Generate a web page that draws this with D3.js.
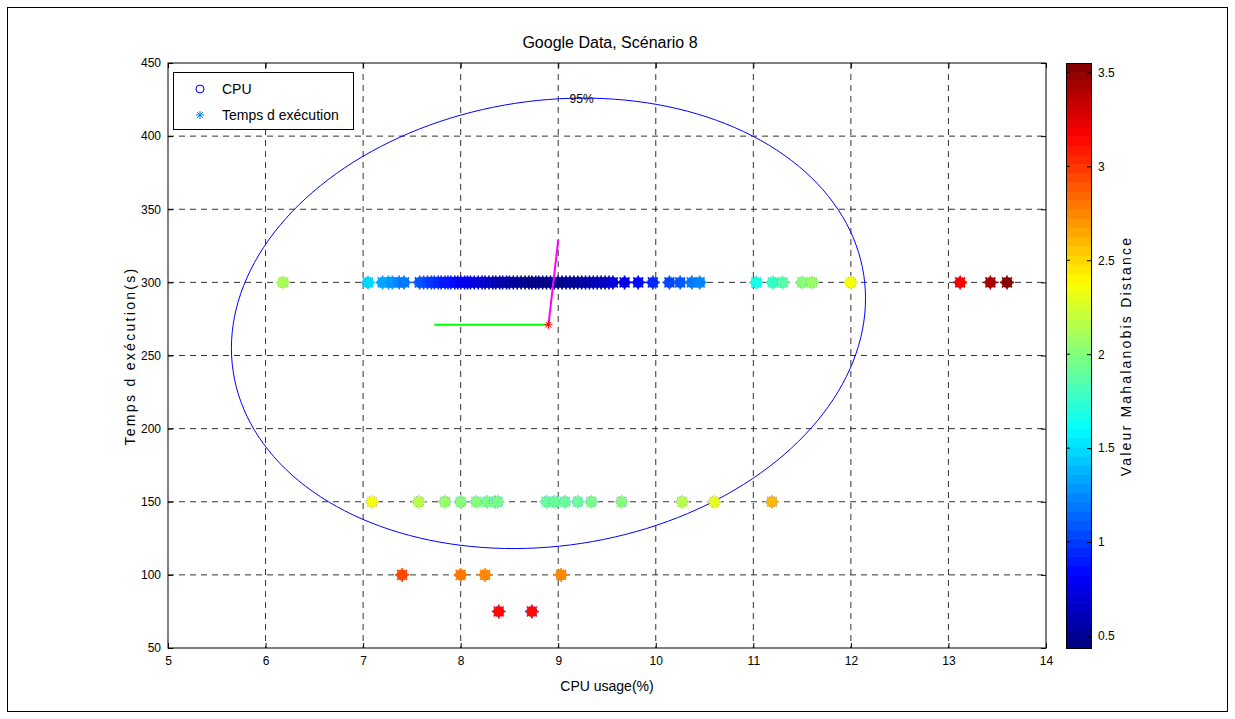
<!DOCTYPE html>
<html><head><meta charset="utf-8">
<script src="https://cdn.jsdelivr.net/npm/d3@7"></script>
<style>body{margin:0;background:#fff}svg{display:block}text{font-family:"Liberation Sans",Arial,sans-serif}</style>
</head><body>
<svg id="c" width="1235" height="719"></svg>
<script>
// ---------- data ----------
const title = "Google Data, Scénario 8";
const xLabel = "CPU usage(%)";
const yLabel = "Temps d exécution(s)";
const cbLabel = "Valeur Mahalanobis Distance";
const xTicks = [5,6,7,8,9,10,11,12,13,14];
const yTicks = [50,100,150,200,250,300,350,400,450];
const cbTicks = [0.5,1,1.5,2,2.5,3,3.5];
const legendLabels = ["CPU","Temps d exécution"];

// row at 300 s
const cpu300 = [6.18,7.05,7.2,7.26,7.3,7.37,7.42,7.58,7.62,7.66,7.7,7.73,7.77,7.8,7.84,7.87,7.9,7.94,7.97,8.0,8.04,8.07,8.1,8.14,8.18,8.22,8.25,8.29,8.33,8.36,8.4,8.43,8.47,8.5,8.54,8.58,8.62,8.66,8.7,8.73,8.77,8.8,8.84,8.88,8.92,8.96,9.0,9.04,9.08,9.12,9.16,9.2,9.24,9.28,9.32,9.36,9.4,9.44,9.48,9.52,9.56,9.68,9.82,9.97,10.14,10.25,10.37,10.45,11.03,11.2,11.3,11.5,11.6,12.0,13.12,13.43,13.6];
const dist300 = [2.10,1.46,1.36,1.32,1.29,1.24,1.20,1.09,1.07,1.04,1.01,0.99,0.97,0.95,0.92,0.90,0.88,0.86,0.84,0.82,0.79,0.77,0.76,0.73,0.71,0.69,0.67,0.65,0.63,0.61,0.59,0.58,0.56,0.55,0.53,0.52,0.50,0.49,0.48,0.48,0.47,0.46,0.46,0.46,0.46,0.46,0.46,0.47,0.48,0.49,0.50,0.51,0.52,0.54,0.56,0.57,0.59,0.61,0.63,0.65,0.68,0.74,0.83,0.93,1.04,1.11,1.20,1.25,1.67,1.79,1.86,2.01,2.08,2.38,3.20,3.44,3.55];
// row at 150 s
const cpu150 = [7.09,7.57,7.84,8.0,8.16,8.27,8.35,8.38,8.88,8.96,9.07,9.2,9.34,9.65,10.27,10.6,11.19];
const dist150 = [2.35,2.17,2.08,2.04,2.0,1.98,1.96,1.96,1.92,1.92,1.93,1.93,1.95,2.0,2.18,2.31,2.58];
// row at 100 s
const cpu100 = [7.4,8.0,8.25,9.03];
const dist100 = [2.95,2.81,2.77,2.73];
// row at 75 s
const cpu75 = [8.39,8.73];
const dist75 = [3.15,3.13];

// 95% ellipse: centre, half-extent in x, half-extent in y, coupling of y with x-direction
const ellipseCenter = [8.9, 272];
const ellipseHalfX = 3.25;
const ellipseHalfY = 154;
const ellipseCoupling = 17;
const ellipseLabel = "95%";
const meanPoint = [8.9, 271];
const axis1 = [[8.9,271],[7.73,271]];
const axis2 = [[8.9,271],[9.0,329]];
const colorDomain = [0.436, 3.55];

// ---------- drawing ----------
const svg = d3.select("#c");
const L=168, R=1046, T=63, B=648;
const x = d3.scaleLinear().domain([5,14]).range([L,R]);
const y = d3.scaleLinear().domain([50,450]).range([B,T]);

function jet(v){ // v in [0,1], quantized to 64 levels
  const n=64; let i=Math.min(n-1,Math.max(0,Math.floor(v*n)));
  const t=(i+0.5)/n;
  const c=a=>Math.max(0,Math.min(1,a));
  const r=c(1.5-Math.abs(4*t-3)), g=c(1.5-Math.abs(4*t-2)), b=c(1.5-Math.abs(4*t-1));
  return d3.rgb(r*255,g*255,b*255).toString();
}
const cnorm = d3.scaleLinear().domain(colorDomain).range([0,1]).clamp(true);
const col = d=>jet(cnorm(d));

svg.append("rect").attr("x",7.5).attr("y",7.5).attr("width",1220).attr("height",704).attr("fill","#fff").attr("stroke","#000");

// grid
const g = svg.append("g");
g.selectAll(".gx").data(xTicks.slice(1,-1)).join("line")
 .attr("x1",d=>x(d)).attr("x2",d=>x(d)).attr("y1",T).attr("y2",B)
 .attr("stroke","#000").attr("stroke-dasharray","6,5").attr("stroke-width",1).attr("opacity",0.8);
g.selectAll(".gy").data(yTicks.slice(1,-1)).join("line")
 .attr("y1",d=>y(d)).attr("y2",d=>y(d)).attr("x1",L).attr("x2",R)
 .attr("stroke","#000").attr("stroke-dasharray","6,5").attr("stroke-width",1).attr("opacity",0.8);

// axes
const xa = svg.append("g").attr("transform",`translate(0,${B})`)
 .call(d3.axisBottom(x).tickValues(xTicks).tickSize(-5).tickPadding(8).tickFormat(d3.format("d")));
const xt = svg.append("g").attr("transform",`translate(0,${T})`)
 .call(d3.axisTop(x).tickValues(xTicks).tickSize(-5).tickFormat(""));
const ya = svg.append("g").attr("transform",`translate(${L},0)`)
 .call(d3.axisLeft(y).tickValues(yTicks).tickSize(-5).tickPadding(7).tickFormat(d3.format("d")));
const yr = svg.append("g").attr("transform",`translate(${R},0)`)
 .call(d3.axisRight(y).tickValues(yTicks).tickSize(-5).tickFormat(""));
[xa,xt,ya,yr].forEach(a=>{a.select(".domain").remove();a.selectAll("line").attr("stroke","#000");
  a.selectAll("text").attr("font-size",12).attr("fill","#000").attr("font-family","Liberation Sans, Arial, sans-serif");});
svg.append("rect").attr("x",L).attr("y",T).attr("width",R-L).attr("height",B-T).attr("fill","none").attr("stroke","#000");

// ellipse
const ell = d3.range(0,361,2).map(a=>{const t=a*Math.PI/180;
  return [ellipseCenter[0]+ellipseHalfX*Math.cos(t),
          ellipseCenter[1]+ellipseCoupling*Math.cos(t)+Math.sqrt(ellipseHalfY*ellipseHalfY-ellipseCoupling*ellipseCoupling)*Math.sin(t)];});
const line = d3.line().x(d=>x(d[0])).y(d=>y(d[1]));
svg.append("path").attr("d",line(ell)).attr("fill","none").attr("stroke","#0000ff").attr("stroke-width",1);
const topPt = ell.reduce((a,b)=>b[1]>a[1]?b:a);
svg.append("text").attr("x",x(topPt[0])).attr("y",y(topPt[1])+5).attr("text-anchor","middle").attr("font-size",12).text(ellipseLabel);

// points
const pts = [];
[[cpu300,dist300,300],[cpu150,dist150,150],[cpu100,dist100,100],[cpu75,dist75,75]].forEach(([cs,ds,yy])=>{
  cs.forEach((c,i)=>pts.push({x:c,y:yy,d:ds[i]}));
});
function asterisk(r){
  const k=r*0.7071;
  return `M${-r},0L${r},0M0,${-r}L0,${r}M${-k},${-k}L${k},${k}M${-k},${k}L${k},${-k}`;
}
const pg = svg.append("g");
const pt = pg.selectAll("g").data(pts).join("g").attr("transform",d=>`translate(${x(d.x)},${y(d.y)})`);
pt.append("circle").attr("r",5.5).attr("fill",d=>col(d.d)).attr("stroke","#3030ff").attr("stroke-width",0.6).attr("stroke-dasharray","1,1.5");
pt.append("path").attr("d",asterisk(7)).attr("stroke",d=>col(d.d)).attr("stroke-width",1.6);

// principal axes
svg.append("path").attr("d",line(axis1)).attr("stroke","#00ff00").attr("stroke-width",2).attr("fill","none");
svg.append("path").attr("d",line(axis2)).attr("stroke","#ff00ff").attr("stroke-width",2).attr("fill","none");
svg.append("path").attr("transform",`translate(${x(meanPoint[0])},${y(meanPoint[1])})`).attr("d",asterisk(4)).attr("stroke","#ff0000").attr("stroke-width",1);

// legend
const lg = svg.append("g");
lg.append("rect").attr("x",173.5).attr("y",72.5).attr("width",180).attr("height",57).attr("fill","#fff").attr("stroke","#000");
lg.append("circle").attr("cx",200).attr("cy",89).attr("r",4).attr("fill","none").attr("stroke","#0000ff");
lg.append("path").attr("transform","translate(200,115)").attr("d",asterisk(4)).attr("stroke","#0080ff").attr("stroke-width",1);
lg.selectAll("text").data(legendLabels).join("text").attr("x",222).attr("y",(d,i)=>94+i*26).attr("font-size",14).text(d=>d);

// colorbar
const cbX=1066, cbW=25;
const cy = d3.scaleLinear().domain(colorDomain).range([B,T]);
const nSteps=64;
const cb = svg.append("g");
cb.selectAll("rect.s").data(d3.range(nSteps)).join("rect")
 .attr("x",cbX).attr("width",cbW)
 .attr("y",i=>T+(B-T)*(nSteps-1-i)/nSteps).attr("height",(B-T)/nSteps+0.6)
 .attr("fill",i=>jet((i+0.5)/nSteps));
cb.append("rect").attr("x",cbX+0.5).attr("y",T+0.5).attr("width",cbW).attr("height",B-T).attr("fill","none").attr("stroke","#000");
const ca = svg.append("g").attr("transform",`translate(${cbX+cbW},0)`)
 .call(d3.axisRight(cy).tickValues(cbTicks).tickSize(-4).tickPadding(7).tickFormat(d=>d));
ca.select(".domain").remove(); ca.selectAll("line").attr("stroke","#000");
ca.selectAll("text").attr("font-size",12).attr("fill","#000");
cb.selectAll("line.l").data(cbTicks).join("line").attr("x1",cbX).attr("x2",cbX+4).attr("y1",d=>cy(d)).attr("y2",d=>cy(d)).attr("stroke","#000");

// labels
svg.append("text").attr("x",610).attr("y",48).attr("text-anchor","middle").attr("font-size",16).text(title);
svg.append("text").attr("x",607).attr("y",691).attr("text-anchor","middle").attr("font-size",14).text(xLabel);
svg.append("text").attr("transform","translate(135,356) rotate(-90)").attr("text-anchor","middle").attr("font-size",14).attr("letter-spacing",2.3).text(yLabel);
svg.append("text").attr("transform","translate(1131,356) rotate(-90)").attr("text-anchor","middle").attr("font-size",14).attr("letter-spacing",2.2).text(cbLabel);
</script>
</body></html>
